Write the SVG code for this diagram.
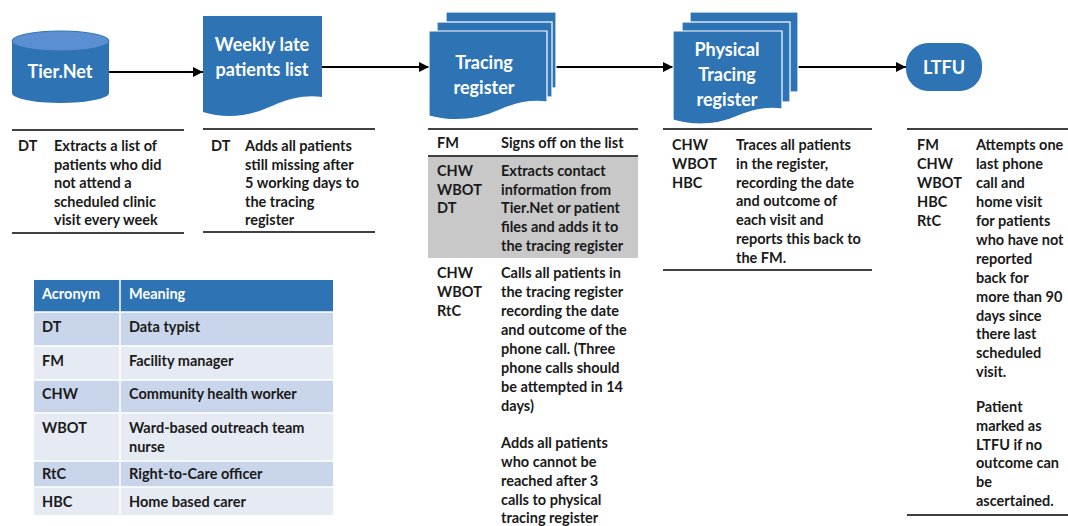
<svg xmlns="http://www.w3.org/2000/svg" width="1068" height="526" viewBox="0 0 1068 526">
<defs>
<marker id="ah" viewBox="0 0 10 10" refX="10" refY="5" markerWidth="5" markerHeight="5" orient="auto" markerUnits="strokeWidth">
<path d="M0,0 L10,5 L0,10 Z" fill="#000"/>
</marker>
<style>
.shape{fill:#2E74B5}
.layer{fill:#2E74B5;stroke:#FFFFFF;stroke-width:1.2}
.title{font-family:Lato,"Liberation Sans",sans-serif;font-weight:bold;font-size:18px;fill:#FFFFFF;text-anchor:middle}
.t{font-family:Lato,"Liberation Sans",sans-serif;font-weight:bold;font-size:14.5px;fill:#1A1A1A}
.th{font-family:Lato,"Liberation Sans",sans-serif;font-weight:bold;font-size:14.5px;fill:#FFFFFF}
.rule{stroke:#404040;stroke-width:2;fill:none}
.conn{stroke:#000;stroke-width:2;fill:none;marker-end:url(#ah)}
.hdr{fill:#2E74B5}
.r1{fill:#C9D5EA}
.r2{fill:#E6EAF3}
</style>
</defs>
<rect width="1068" height="526" fill="#FFFFFF"/>

<g id="connectors">
<line class="conn" x1="109" y1="72" x2="203" y2="72"/>
<line class="conn" x1="322" y1="67" x2="429" y2="67"/>
<line class="conn" x1="556" y1="67" x2="673" y2="67"/>
<line class="conn" x1="798" y1="67" x2="906" y2="67"/>
</g>

<g id="tiernet">
<path class="shape" d="M12,41 V93 A48.5,10 0 0 0 109,93 V41 Z"/>
<ellipse cx="60.5" cy="41" rx="48.5" ry="10" fill="#5B8FD2" stroke="#2E74B5" stroke-width="1"/>
<text class="title" x="60" y="78">Tier.Net</text>
</g>

<g id="weekly">
<path class="shape" d="M203,16 H322 V97 C308,95 292,97 272,106 C252,115 228,120 203,112 Z"/>
<text class="title" x="262" y="51">Weekly late</text>
<text class="title" x="262" y="76">patients list</text>
</g>

<g id="tracing">
<rect class="layer" x="446" y="12" width="110" height="76"/>
<rect class="layer" x="437" y="22" width="115" height="75"/>
<path class="layer" d="M429,31 H547 V102 C534,100 518,102 500,110 C480,119 455,123 429,116 Z"/>
<text class="title" x="484" y="69">Tracing</text>
<text class="title" x="484" y="94">register</text>
</g>

<g id="physical">
<rect class="layer" x="690" y="12" width="108" height="80"/>
<rect class="layer" x="682" y="22" width="108" height="80"/>
<path class="layer" d="M673,31 H782 V109 C770,107 755,109 738,116 C720,124 697,127 673,120 Z"/>
<text class="title" x="727" y="56">Physical</text>
<text class="title" x="727" y="81">Tracing</text>
<text class="title" x="727" y="106">register</text>
</g>

<g id="ltfu">
<rect class="shape" x="906" y="43" width="76" height="48" rx="22" ry="22"/>
<text class="title" x="944" y="74">LTFU</text>
</g>

<g id="desc-tiernet">
<line class="rule" x1="12" y1="130" x2="184" y2="130"/>
<text class="t" x="18" y="151">DT</text>
<text class="t" x="54" y="151">Extracts a list of</text>
<text class="t" x="54" y="170">patients who did</text>
<text class="t" x="54" y="188">not attend a</text>
<text class="t" x="54" y="207">scheduled clinic</text>
<text class="t" x="54" y="225">visit every week</text>
<line class="rule" x1="12" y1="233" x2="184" y2="233"/>
</g>

<g id="desc-weekly">
<line class="rule" x1="203" y1="129" x2="375" y2="129"/>
<text class="t" x="211" y="151">DT</text>
<text class="t" x="245" y="151">Adds all patients</text>
<text class="t" x="245" y="170">still missing after</text>
<text class="t" x="245" y="188">5 working days to</text>
<text class="t" x="245" y="207">the tracing</text>
<text class="t" x="245" y="225">register</text>
<line class="rule" x1="203" y1="232" x2="375" y2="232"/>
</g>

<g id="desc-tracing">
<line class="rule" x1="428" y1="129" x2="638" y2="129"/>
<text class="t" x="437" y="148">FM</text>
<text class="t" x="501" y="148">Signs off on the list</text>
<rect x="428" y="156" width="210" height="102" fill="#C8C8C8"/>
<line class="rule" x1="428" y1="156" x2="638" y2="156"/>
<text class="t" x="437" y="176">CHW</text>
<text class="t" x="437" y="195">WBOT</text>
<text class="t" x="437" y="213">DT</text>
<text class="t" x="501" y="176">Extracts contact</text>
<text class="t" x="501" y="195">information from</text>
<text class="t" x="501" y="213">Tier.Net or patient</text>
<text class="t" x="501" y="232">files and adds it to</text>
<text class="t" x="501" y="251">the tracing register</text>
<text class="t" x="437" y="278">CHW</text>
<text class="t" x="437" y="297">WBOT</text>
<text class="t" x="437" y="316">RtC</text>
<text class="t" x="501" y="278">Calls all patients in</text>
<text class="t" x="501" y="297">the tracing register</text>
<text class="t" x="501" y="316">recording the date</text>
<text class="t" x="501" y="335">and outcome of the</text>
<text class="t" x="501" y="354">phone call. (Three</text>
<text class="t" x="501" y="373">phone calls should</text>
<text class="t" x="501" y="392">be attempted in 14</text>
<text class="t" x="501" y="411">days)</text>
<text class="t" x="501" y="448">Adds all patients</text>
<text class="t" x="501" y="467">who cannot be</text>
<text class="t" x="501" y="486">reached after 3</text>
<text class="t" x="501" y="505">calls to physical</text>
<text class="t" x="501" y="523">tracing register</text>
</g>

<g id="desc-physical">
<line class="rule" x1="663" y1="129" x2="872" y2="129"/>
<text class="t" x="672" y="150">CHW</text>
<text class="t" x="672" y="169">WBOT</text>
<text class="t" x="672" y="188">HBC</text>
<text class="t" x="736" y="150">Traces all patients</text>
<text class="t" x="736" y="169">in the register,</text>
<text class="t" x="736" y="188">recording the date</text>
<text class="t" x="736" y="206">and outcome of</text>
<text class="t" x="736" y="225">each visit and</text>
<text class="t" x="736" y="244">reports this back to</text>
<text class="t" x="736" y="263">the FM.</text>
<line class="rule" x1="663" y1="270" x2="872" y2="270"/>
</g>

<g id="desc-ltfu">
<line class="rule" x1="907" y1="129" x2="1068" y2="129"/>
<text class="t" x="917" y="150">FM</text>
<text class="t" x="917" y="169">CHW</text>
<text class="t" x="917" y="188">WBOT</text>
<text class="t" x="917" y="207">HBC</text>
<text class="t" x="917" y="226">RtC</text>
<text class="t" x="976" y="150">Attempts one</text>
<text class="t" x="976" y="169">last phone</text>
<text class="t" x="976" y="188">call and</text>
<text class="t" x="976" y="207">home visit</text>
<text class="t" x="976" y="226">for patients</text>
<text class="t" x="976" y="245">who have not</text>
<text class="t" x="976" y="264">reported</text>
<text class="t" x="976" y="283">back for</text>
<text class="t" x="976" y="302">more than 90</text>
<text class="t" x="976" y="321">days since</text>
<text class="t" x="976" y="339">there last</text>
<text class="t" x="976" y="358">scheduled</text>
<text class="t" x="976" y="377">visit.</text>
<text class="t" x="976" y="412">Patient</text>
<text class="t" x="976" y="431">marked as</text>
<text class="t" x="976" y="450">LTFU if no</text>
<text class="t" x="976" y="468">outcome can</text>
<text class="t" x="976" y="487">be</text>
<text class="t" x="976" y="506">ascertained.</text>
<line class="rule" x1="907" y1="515" x2="1068" y2="515"/>
</g>

<g id="acronym-table">
<rect class="hdr" x="34" y="280" width="299" height="32"/>
<rect class="r1" x="34" y="312" width="299" height="34"/>
<rect class="r2" x="34" y="346" width="299" height="34"/>
<rect class="r1" x="34" y="380" width="299" height="33"/>
<rect class="r2" x="34" y="413" width="299" height="48"/>
<rect class="r1" x="34" y="461" width="299" height="26"/>
<rect class="r2" x="34" y="487" width="299" height="28"/>
<g stroke="#FFFFFF" stroke-width="1.5">
<line x1="120" y1="280" x2="120" y2="515"/>
<line x1="34" y1="312" x2="333" y2="312"/>
<line x1="34" y1="346" x2="333" y2="346"/>
<line x1="34" y1="380" x2="333" y2="380"/>
<line x1="34" y1="413" x2="333" y2="413"/>
<line x1="34" y1="461" x2="333" y2="461"/>
<line x1="34" y1="487" x2="333" y2="487"/>
</g>
<text class="th" x="42" y="299">Acronym</text>
<text class="th" x="129" y="299">Meaning</text>
<text class="t" x="42" y="332">DT</text>
<text class="t" x="129" y="332">Data typist</text>
<text class="t" x="42" y="366">FM</text>
<text class="t" x="129" y="366">Facility manager</text>
<text class="t" x="42" y="399">CHW</text>
<text class="t" x="129" y="399">Community health worker</text>
<text class="t" x="42" y="433">WBOT</text>
<text class="t" x="129" y="433">Ward-based outreach team</text>
<text class="t" x="129" y="452">nurse</text>
<text class="t" x="42" y="479">RtC</text>
<text class="t" x="129" y="479">Right-to-Care officer</text>
<text class="t" x="42" y="507">HBC</text>
<text class="t" x="129" y="507">Home based carer</text>
</g>
</svg>
